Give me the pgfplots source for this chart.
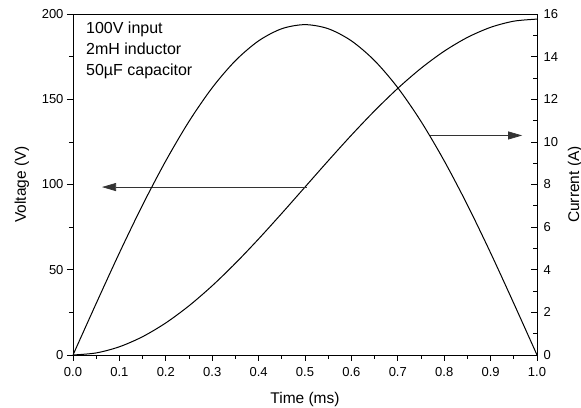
\documentclass[border=0pt]{standalone}
\usepackage{fontspec}
\setmainfont{Liberation Sans}
\usepackage{pgfplots}
\pgfplotsset{compat=1.18}
\usetikzlibrary{arrows.meta}

\begin{document}
\begin{tikzpicture}
\pgfplotsset{
  every axis/.append style={
    scale only axis, width=464pt, height=341pt,
    xmin=0, xmax=1,
    /pgf/number format/assume math mode=true,
    tick style={black, line width=0.7pt},
    major tick length=6pt, minor tick length=4pt,
  }
}
\begin{axis}[name=ax,
  ymin=0, ymax=200, ytick={0,50,100,150,200}, minor y tick num=1,
  xtick={0,0.1,0.2,0.3,0.4,0.5,0.6,0.7,0.8,0.9,1.0}, minor x tick num=1,
  xtick pos=bottom, ytick pos=left, tick align=outside,
  axis line style={line width=0.8pt},
  xticklabel style={font=\fontsize{13}{15}\selectfont, yshift=-3pt, /pgf/number format/.cd, fixed, fixed zerofill, precision=1},
  yticklabel style={font=\fontsize{13}{15}\selectfont},
  xlabel={Time (ms)}, ylabel={Voltage (V)},
  xlabel style={font=\fontsize{15.5}{17}\selectfont, at={([yshift=-49pt]axis description cs:0.5,0)}, anchor=base},
  ylabel style={font=\fontsize{15.5}{17}\selectfont, at={([xshift=-47pt]axis description cs:0,0.5)}, anchor=base, rotate=0}]
\addplot[black, line width=1pt, smooth] coordinates {
(0,0) (0.05,1.21) (0.1,4.82) (0.15,10.74) (0.2,18.81) (0.25,28.85)
(0.3,40.60) (0.35,53.78) (0.4,68.06) (0.45,83.09) (0.5,98.5)
(0.55,113.91) (0.6,128.94) (0.65,143.22) (0.7,156.40) (0.75,168.15)
(0.8,178.19) (0.85,186.26) (0.9,192.18) (0.95,195.79) (1.0,197.0)};
\addplot[black!80, line width=0.7pt, -{Triangle[length=14pt,width=8pt]}] coordinates {(0.504,98.5) (0.0625,98.5)};
\node[anchor=north west, inner sep=0pt, align=left, font=\fontsize{16}{20.7}\selectfont] at (rel axis cs:0.028,0.977) {100V input\\2mH inductor\\50\textmu F capacitor};
\end{axis}
\begin{axis}[
  ymin=0, ymax=16, ytick={0,2,4,6,8,10,12,14,16}, minor y tick num=1,
  axis y line*=right, axis x line=none, tick align=inside,
  axis line style={line width=0.8pt},
  yticklabel style={font=\fontsize{13}{15}\selectfont, xshift=3pt},
  ylabel={Current (A)},
  ylabel style={font=\fontsize{15.5}{17}\selectfont, at={([xshift=42pt]axis description cs:1,0.5)}, anchor=base}]
\addplot[black, line width=1pt, smooth] coordinates {
(0,0) (0.05,2.42) (0.1,4.79) (0.15,7.04) (0.2,9.11) (0.25,10.96)
(0.3,12.54) (0.35,13.81) (0.4,14.74) (0.45,15.31) (0.5,15.5)
(0.55,15.31) (0.6,14.74) (0.65,13.81) (0.7,12.54) (0.75,10.96)
(0.8,9.11) (0.85,7.04) (0.9,4.79) (0.95,2.42) (1.0,0)};
\addplot[black!80, line width=0.7pt, -{Triangle[length=14pt,width=8pt]}] coordinates {(0.77,10.3) (0.968,10.3)};
\end{axis}
\pgfresetboundingbox
\path ([shift={(-73pt,-53pt)}]ax.south west) rectangle ([shift={(44pt,14pt)}]ax.north east);
\end{tikzpicture}
\end{document}
